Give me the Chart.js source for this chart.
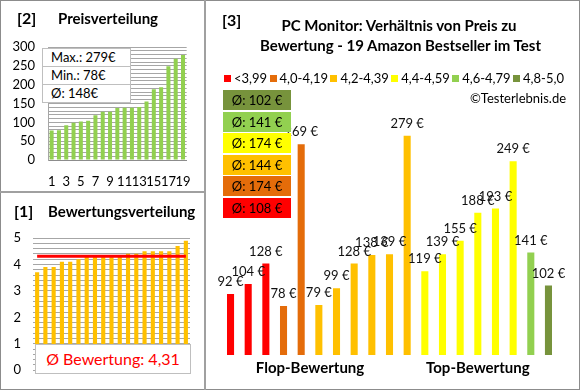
<!DOCTYPE html>
<html>
<head>
<meta charset="utf-8">
<script src="https://cdn.jsdelivr.net/npm/chart.js@4/dist/chart.umd.min.js"></script>
<style>
  body { margin: 0; background: #fff; font-family: Lato, "Open Sans", sans-serif; }
  #wrap { position: relative; width: 580px; height: 390px; overflow: hidden; }
  #wrap canvas { position: absolute; }
  .frame { position: absolute; left: 0; top: 0; width: 578px; height: 388px; border: 1px solid #8c8c8c; z-index: 5; pointer-events: none; }
  .vline { position: absolute; left: 204px; top: 0; width: 2px; height: 390px; background: #a0a0a0; z-index: 5; }
  .hline { position: absolute; left: 0; top: 191px; width: 205px; height: 2px; background: #a0a0a0; z-index: 5; }
  .t { position: absolute; white-space: nowrap; font-weight: bold; color: #000; z-index: 4; }
  .statbox { position: absolute; left: 42px; top: 48px; width: 87px; border: 1px solid #bfbfbf; background: #fff; z-index: 4; }
  .statbox div { height: 17px; line-height: 17px; padding-left: 8px; font-size: 13px; border-top: 1px solid #bfbfbf; }
  .statbox div:first-child { border-top: none; }
  .meanbox { position: absolute; left: 35px; top: 344px; width: 154px; height: 28px; border: 1px solid #bfbfbf; background: #fff;
             color: #ff0000; font-size: 16px; line-height: 28px; text-align: center; z-index: 4; }
  #legend { position: absolute; left: 224px; top: 71px; width: 340px; height: 14px; display: flex; justify-content: space-between; z-index: 4; }
  #legend span { font-size: 13px; line-height: 14px; display: flex; align-items: center; }
  #legend i { display: inline-block; width: 7px; height: 7px; margin-right: 3px; }
  .avg { position: absolute; left: 223px; width: 68px; height: 20px; line-height: 20px; text-align: center; font-size: 13px; z-index: 4; }
</style>
</head>
<body>
<div id="wrap">
  <canvas id="priceChart" width="205" height="192" style="left:0;top:0"></canvas>
  <canvas id="ratingChart" width="205" height="198" style="left:0;top:192px"></canvas>
  <canvas id="mainChart" width="375" height="390" style="left:205px;top:0"></canvas>

  <div class="t" style="left:17px;top:8px;font-size:16px;line-height:20px">[2]</div>
  <div class="t" style="left:58px;top:9px;font-size:15px;line-height:18px">Preisverteilung</div>
  <div class="t" style="left:14px;top:201px;font-size:16px;line-height:20px">[1]</div>
  <div class="t" style="left:48px;top:202px;font-size:15px;line-height:18px">Bewertungsverteilung</div>
  <div class="t" style="left:222px;top:10px;font-size:16px;line-height:20px">[3]</div>
  <div class="t" style="left:260px;width:278px;top:15px;font-size:15px;line-height:20px;text-align:center">PC Monitor: Verhältnis von Preis zu<br>Bewertung - 19 Amazon Bestseller im Test</div>
  <div class="t" style="left:470px;top:90px;font-size:13px;line-height:16px;font-weight:normal">©Testerlebnis.de</div>

  <div class="statbox" id="statbox"></div>
  <div class="meanbox" id="meanbox"></div>
  <div id="legend"></div>
  <div id="avgs"></div>

  <div class="frame"></div>
  <div class="vline"></div>
  <div class="hline"></div>
</div>

<script>
// rating groups (legend)
const groupLabels = ['<3,99', '4,0-4,19', '4,2-4,39', '4,4-4,59', '4,6-4,79', '4,8-5,0'];
const groupColors = ['#ff0000', '#e46c0a', '#ffc000', '#ffff00', '#92d050', '#77933c'];

// main chart: 19 products, flop -> top
const productLabels = ['1','2','3','4','5','6','7','8','9','10','11','12','13','14','15','16','17','18','19'];
const prices = [92, 104, 128, 78, 269, 79, 99, 128, 138, 139, 279, 119, 139, 155, 188, 193, 249, 141, 102];
const priceGroup = [0, 0, 0, 1, 1, 2, 2, 2, 2, 2, 2, 3, 3, 3, 3, 3, 3, 4, 5];
const sideLabels = ['Flop-Bewertung', 'Top-Bewertung'];
const flopCount = 10;

// small charts
const sortedPrices = [78, 79, 92, 99, 102, 104, 119, 128, 128, 138, 139, 139, 141, 155, 188, 193, 249, 269, 279];
const sortedRatings = [3.7, 3.9, 3.9, 4.1, 4.1, 4.2, 4.3, 4.3, 4.3, 4.3, 4.3, 4.4, 4.4, 4.5, 4.5, 4.5, 4.5, 4.7, 4.9];
const ratingMean = 4.31;

const FONT = 'Lato, "Open Sans", sans-serif';
Chart.defaults.font.family = FONT;
Chart.defaults.color = '#000';

// ---- stat box & mean box
const maxP = Math.max(...prices), minP = Math.min(...prices);
const avgP = Math.round(prices.reduce((a, b) => a + b, 0) / prices.length);
document.getElementById('statbox').innerHTML =
  `<div>Max.: ${maxP}€</div><div>Min.: ${minP}€</div><div>Ø: ${avgP}€</div>`;
document.getElementById('meanbox').textContent = 'Ø Bewertung: ' + ratingMean.toFixed(2).replace('.', ',');

// ---- legend
document.getElementById('legend').innerHTML = groupLabels
  .map((l, i) => `<span><i style="background:${groupColors[i]}"></i>${l.replace('<', '&lt;')}</span>`).join('');

// ---- group averages, top box = best group
let avgHtml = '';
for (let g = groupLabels.length - 1, row = 0; g >= 0; g--, row++) {
  const vals = prices.filter((_, i) => priceGroup[i] === g);
  const a = Math.round(vals.reduce((s, v) => s + v, 0) / vals.length);
  avgHtml += `<div class="avg" style="top:${90 + row * 21.6}px;background:${groupColors[g]}">Ø: ${a} €</div>`;
}
document.getElementById('avgs').innerHTML = avgHtml;

// ---- [2] Preisverteilung
new Chart(document.getElementById('priceChart'), {
  type: 'bar',
  data: {
    labels: sortedPrices.map((_, i) => String(i + 1)),
    datasets: [{ data: sortedPrices, backgroundColor: '#92d050', barPercentage: 0.55, categoryPercentage: 1 }]
  },
  options: {
    responsive: false, animation: false,
    layout: { padding: { left: 0, top: 47, right: 17, bottom: 0 } },
    plugins: { legend: { display: false }, tooltip: { enabled: false } },
    scales: {
      x: {
        grid: { display: false, drawTicks: false },
        border: { color: '#8c8c8c' },
        ticks: { autoSkip: false, maxRotation: 0, padding: 14, font: { size: 13 },
                 callback: (v, i) => i % 2 === 0 ? String(i + 1) : '' },
        afterFit: s => { s.height = 32; }
      },
      y: {
        min: 0, max: 300,
        grid: { color: '#a6a6a6', drawTicks: false },
        border: { color: '#a6a6a6' },
        ticks: { autoSkip: false, stepSize: 10, padding: 13, font: { size: 13 },
                 callback: v => v % 50 === 0 ? v : '' },
        afterFit: s => { s.width = 48; }
      }
    }
  }
});

// ---- [1] Bewertungsverteilung
new Chart(document.getElementById('ratingChart'), {
  type: 'bar',
  data: {
    labels: sortedRatings.map((_, i) => String(i + 1)),
    datasets: [
      { type: 'line', data: sortedRatings.map(() => ratingMean), borderColor: '#ff0000', borderWidth: 3, pointRadius: 0, order: 0 },
      { data: sortedRatings, backgroundColor: '#ffc000', barPercentage: 0.5, categoryPercentage: 1, order: 1 }
    ]
  },
  options: {
    responsive: false, animation: false,
    layout: { padding: { left: 0, top: 46, right: 15, bottom: 17 } },
    plugins: { legend: { display: false }, tooltip: { enabled: false } },
    scales: {
      x: { display: false },
      y: {
        min: 0, max: 5,
        grid: { color: '#a6a6a6', drawTicks: false },
        border: { display: false },
        ticks: { autoSkip: false, stepSize: 0.2, padding: 12, font: { size: 13 },
                 callback: v => Math.abs(v - Math.round(v)) < 1e-6 ? Math.round(v) : '' },
        afterFit: s => { s.width = 33; }
      }
    }
  }
});

// ---- [3] main chart
const priceLabels = {
  id: 'priceLabels',
  afterDatasetsDraw(chart) {
    const ctx = chart.ctx;
    ctx.save();
    ctx.font = '13px ' + FONT;
    ctx.fillStyle = '#111';
    ctx.textAlign = 'center';
    ctx.textBaseline = 'alphabetic';
    chart.getDatasetMeta(0).data.forEach((el, i) => {
      ctx.fillText(prices[i] + ' €', el.x, el.y - 8);
    });
    // group captions under the bars
    const x = chart.scales.x;
    ctx.font = 'bold 15px ' + FONT;
    ctx.fillStyle = '#000';
    ctx.textBaseline = 'middle';
    const flopX = (x.getPixelForValue(0) + x.getPixelForValue(flopCount - 1)) / 2;
    const topX = (x.getPixelForValue(flopCount) + x.getPixelForValue(prices.length - 1)) / 2;
    ctx.fillText(sideLabels[0], flopX, 368);
    ctx.fillText(sideLabels[1], topX, 368);
    ctx.restore();
  }
};

new Chart(document.getElementById('mainChart'), {
  type: 'bar',
  data: {
    labels: productLabels,
    datasets: [{
      data: prices,
      backgroundColor: priceGroup.map(g => groupColors[g]),
      barPercentage: 0.4, categoryPercentage: 1
    }]
  },
  options: {
    responsive: false, animation: false,
    layout: { padding: { left: 16.7, top: 118, right: 22.7, bottom: 35 } },
    plugins: { legend: { display: false }, tooltip: { enabled: false } },
    scales: {
      x: { display: false },
      y: { display: false, min: 20, max: 300 }
    }
  },
  plugins: [priceLabels]
});
</script>
</body>
</html>
